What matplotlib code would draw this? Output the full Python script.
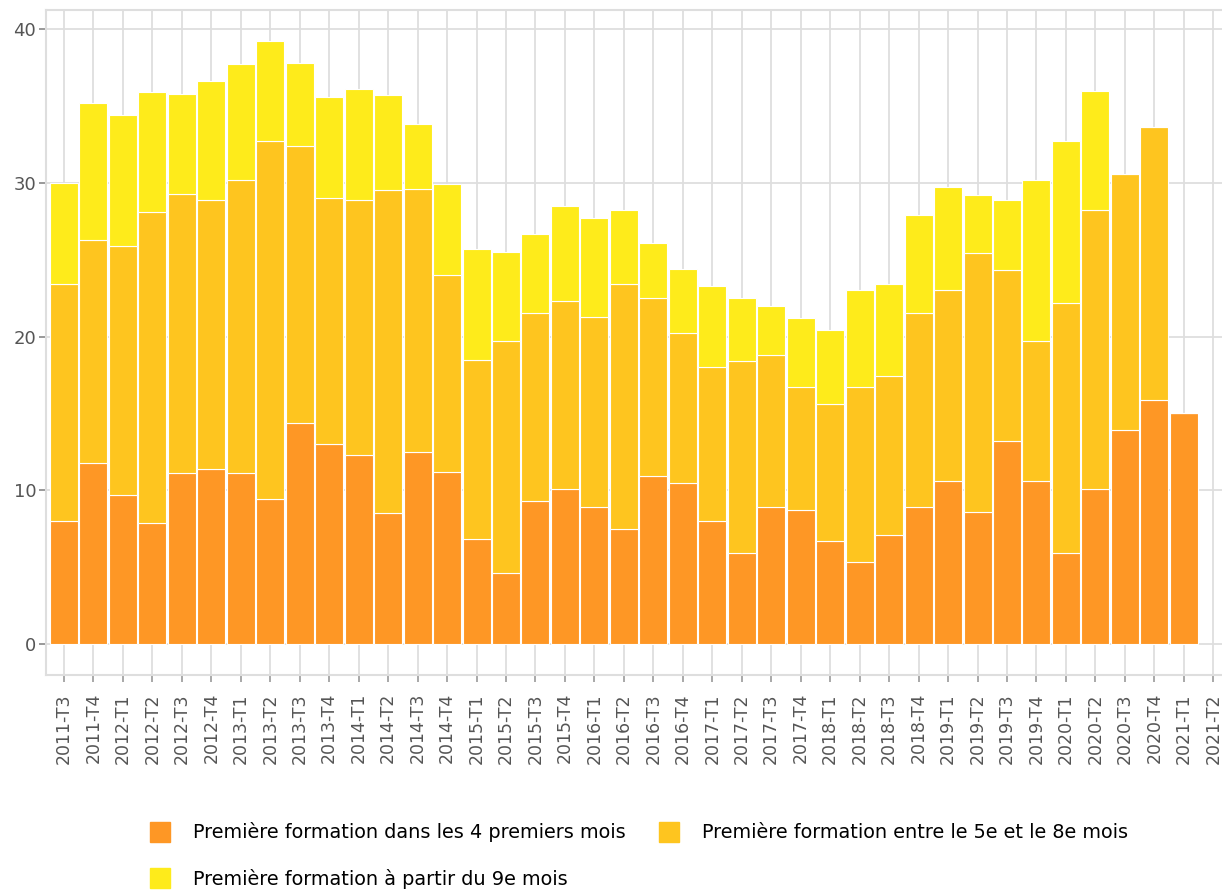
import numpy as np
import matplotlib
matplotlib.use("Agg")
import matplotlib.pyplot as plt
from matplotlib.lines import Line2D

# quarters shown on the axis (last one has no data yet)
quarters = ["2011-T3", "2011-T4",
            "2012-T1", "2012-T2", "2012-T3", "2012-T4",
            "2013-T1", "2013-T2", "2013-T3", "2013-T4",
            "2014-T1", "2014-T2", "2014-T3", "2014-T4",
            "2015-T1", "2015-T2", "2015-T3", "2015-T4",
            "2016-T1", "2016-T2", "2016-T3", "2016-T4",
            "2017-T1", "2017-T2", "2017-T3", "2017-T4",
            "2018-T1", "2018-T2", "2018-T3", "2018-T4",
            "2019-T1", "2019-T2", "2019-T3", "2019-T4",
            "2020-T1", "2020-T2", "2020-T3", "2020-T4",
            "2021-T1", "2021-T2"]

# cumulative levels
first_4_months = [8.0, 11.8, 9.7, 7.9, 11.1, 11.4, 11.1, 9.4, 14.4, 13.0,
                  12.3, 8.5, 12.5, 11.2, 6.8, 4.6, 9.3, 10.1, 8.9, 7.5,
                  10.9, 10.5, 8.0, 5.9, 8.9, 8.7, 6.7, 5.3, 7.1, 8.9,
                  10.6, 8.6, 13.2, 10.6, 5.9, 10.1, 13.9, 15.9, 15.0]
up_to_8_months = [23.4, 26.3, 25.9, 28.1, 29.3, 28.9, 30.2, 32.7, 32.4, 29.0,
                  28.9, 29.5, 29.6, 24.0, 18.5, 19.7, 21.5, 22.3, 21.3, 23.4,
                  22.5, 20.2, 18.0, 18.4, 18.8, 16.7, 15.6, 16.7, 17.4, 21.5,
                  23.0, 25.4, 24.3, 19.7, 22.2, 28.2, 30.6, 33.6, 15.0]
total = [30.0, 35.2, 34.4, 35.9, 35.8, 36.6, 37.7, 39.2, 37.8, 35.6,
         36.1, 35.7, 33.8, 29.9, 25.7, 25.5, 26.7, 28.5, 27.7, 28.2,
         26.1, 24.4, 23.3, 22.5, 22.0, 21.2, 20.4, 23.0, 23.4, 27.9,
         29.7, 29.2, 28.9, 30.2, 32.7, 36.0, 30.6, 33.6, 15.0]

labels = ["Première formation dans les 4 premiers mois",
          "Première formation entre le 5e et le 8e mois",
          "Première formation à partir du 9e mois"]
colors = ["#fe9725", "#fec51f", "#feeb1b"]

s1 = np.array(first_4_months)
s2 = np.array(up_to_8_months) - s1
s3 = np.array(total) - np.array(up_to_8_months)
x = np.arange(len(s1))

W, H = 1222, 891
fig = plt.figure(figsize=(W / 100, H / 100), dpi=100)
ax = fig.add_axes([46 / W, 1 - 675 / H, 1182 / W, 665 / H])

grid_col = "#dedede"
ax.bar(x, s1, width=0.95, color=colors[0], edgecolor="white", linewidth=0.8, zorder=3)
ax.bar(x, s2, bottom=s1, width=0.95, color=colors[1], edgecolor="white", linewidth=0.8, zorder=3)
ax.bar(x, s3, bottom=s1 + s2, width=0.95, color=colors[2], edgecolor="white", linewidth=0.8, zorder=3)

ax.set_xticks(np.arange(len(quarters)))
ax.set_xticklabels(quarters, rotation=90, fontsize=12.5, color="#555555")
ax.set_xlim(-0.61, 39.5)
ax.set_ylim(-2.02, 41.24)
ax.set_yticks([0, 10, 20, 30, 40])
ax.tick_params(axis="y", labelsize=13, labelcolor="#555555", color="#888888",
               length=5, width=1.2, pad=2)
ax.tick_params(axis="x", color="#999999", length=5, width=1.2, pad=8)

ax.grid(True, color=grid_col, linewidth=1.3, zorder=0)
ax.set_axisbelow(True)
for side in ["left", "bottom", "top", "right"]:
    ax.spines[side].set_color(grid_col)
    ax.spines[side].set_linewidth(1.5)

handles = [Line2D([], [], marker="s", linestyle="none", markersize=14.5,
                  markerfacecolor=c, markeredgecolor=c) for c in colors]
# row-major order: first row holds series 1 and 2, second row series 3
fig.legend([handles[0], handles[2], handles[1]],
           [labels[0], labels[2], labels[1]],
           ncol=2, loc="upper left", bbox_to_anchor=(131 / W, 1 - 805 / H),
           frameon=False, fontsize=13.9, handlelength=1.2, handletextpad=1.1,
           columnspacing=1.66, labelspacing=1.37, borderpad=0.4)

fig.savefig("out.png", dpi=100)
